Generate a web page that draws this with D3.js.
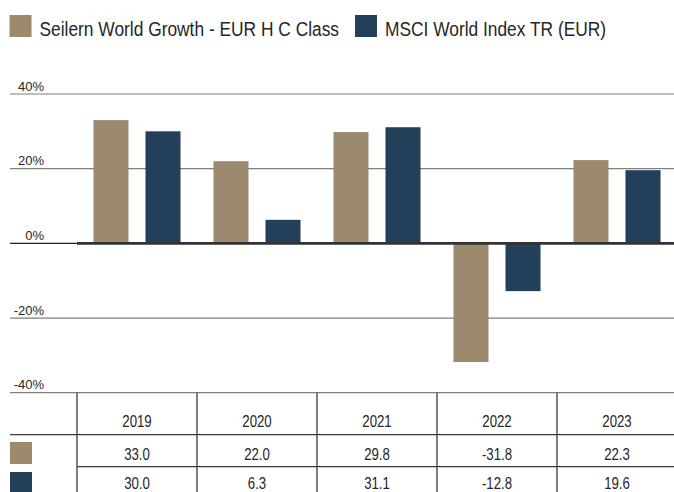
<!DOCTYPE html>
<html>
<head>
<meta charset="utf-8">
<script src="https://cdn.jsdelivr.net/npm/d3@7"></script>
<style>
html,body{margin:0;padding:0;background:#fff;}
svg{display:block;}
</style>
</head>
<body>
<script>
const years = ["2019", "2020", "2021", "2022", "2023"];
const seriesNames = ["Seilern World Growth - EUR H C Class", "MSCI World Index TR (EUR)"];
const seilern = [33.0, 22.0, 29.8, -31.8, 22.3];
const msci = [30.0, 6.3, 31.1, -12.8, 19.6];
const yTicks = [40, 20, 0, -20, -40];
const colors = ["#9c8a6e", "#243f5a"];

const W = 674, H = 492;
const svg = d3.select("body").append("svg").attr("width", W).attr("height", H);

const NARROW = 0.827;
const textCol = "#262626";
function ntext(g, x, y, str, size, anchor) {
  return g.append("text")
    .attr("transform", `translate(${x},${y}) scale(${NARROW},1)`)
    .attr("text-anchor", anchor || "start")
    .attr("font-family", "'Liberation Sans', Arial, sans-serif")
    .attr("font-size", size)
    .attr("fill", textCol)
    .text(str);
}

// scales
const y = d3.scaleLinear().domain([-40, 40]).range([392.7, 94]);
const x0 = d3.scaleBand().domain(years).range([77, 677]).paddingInner(0).paddingOuter(0);
const x1 = d3.scaleBand().domain([0, 1]).range([0, x0.bandwidth()]).paddingInner(0.327).paddingOuter(0.317);

// legend
const leg = svg.append("g");
const legX = [9.5, 355];
seriesNames.forEach((n, i) => {
  leg.append("rect").attr("x", legX[i]).attr("y", 15).attr("width", 22).attr("height", 22).attr("fill", colors[i]);
  ntext(leg, legX[i] + 30, 35.5, n, 21, "start");
});

// gridlines
const grid = svg.append("g");
yTicks.forEach(t => {
  if (t === 0) return;
  grid.append("line").attr("x1", 10).attr("x2", W).attr("y1", y(t)).attr("y2", y(t))
    .attr("stroke", "#7f7f7f").attr("stroke-width", 1.2);
});
// tick labels
yTicks.forEach(t => {
  grid.append("text").attr("x", 44).attr("y", y(t) - 3.3).attr("text-anchor", "end")
    .attr("font-family", "'Liberation Sans', Arial, sans-serif").attr("font-size", 13)
    .attr("fill", textCol).text(t + "%");
});

// bars
const data = years.map((yr, i) => ({ yr, vals: [seilern[i], msci[i]] }));
const bars = svg.append("g");
data.forEach(d => {
  d.vals.forEach((v, j) => {
    bars.append("rect")
      .attr("x", x0(d.yr) + x1(j))
      .attr("width", x1.bandwidth())
      .attr("y", y(Math.max(0, v)))
      .attr("height", Math.abs(y(v) - y(0)))
      .attr("fill", colors[j]);
  });
});

// zero line
svg.append("line").attr("x1", 10).attr("x2", 77).attr("y1", y(0)).attr("y2", y(0))
  .attr("stroke", "#222").attr("stroke-width", 1.2);
svg.append("line").attr("x1", 77).attr("x2", W).attr("y1", y(0)).attr("y2", y(0))
  .attr("stroke", "#333").attr("stroke-width", 2.7);

// table
const tbl = svg.append("g");
const lineCol = "#3a3a3a";
const headerBottom = 434.7, row1Bottom = 466.7;
years.forEach(yr => {
  tbl.append("line").attr("x1", x0(yr)).attr("x2", x0(yr)).attr("y1", y(-40)).attr("y2", H)
    .attr("stroke", lineCol).attr("stroke-width", 1.3);
});
tbl.append("line").attr("x1", 10).attr("x2", W).attr("y1", headerBottom).attr("y2", headerBottom)
  .attr("stroke", lineCol).attr("stroke-width", 1.3);
tbl.append("line").attr("x1", 77).attr("x2", W).attr("y1", row1Bottom).attr("y2", row1Bottom)
  .attr("stroke", lineCol).attr("stroke-width", 1.3);

years.forEach((yr, i) => {
  const cx = x0(yr) + x0.bandwidth() / 2;
  ntext(tbl, cx, 426.7, yr, 16, "middle");
  ntext(tbl, cx, 459.5, seilern[i].toFixed(1), 16, "middle");
  ntext(tbl, cx, 489, msci[i].toFixed(1), 16, "middle");
});
tbl.append("rect").attr("x", 10).attr("y", 442).attr("width", 22).attr("height", 22).attr("fill", colors[0]);
tbl.append("rect").attr("x", 10).attr("y", 472).attr("width", 22).attr("height", 22).attr("fill", colors[1]);
</script>
</body>
</html>
